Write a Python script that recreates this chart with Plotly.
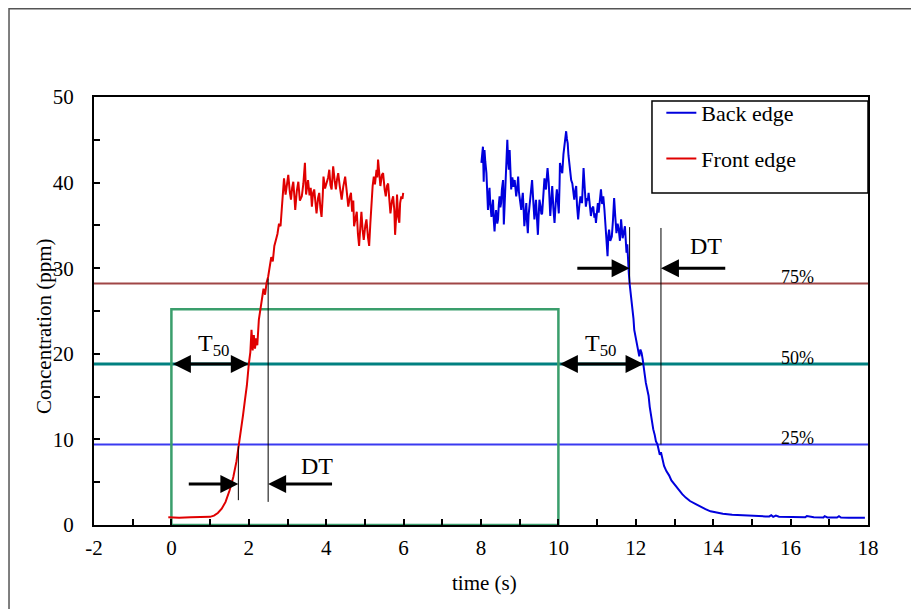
import plotly.graph_objects as go

# ---------------- data ----------------
front_t = [-0.08, 0.2, 0.5, 0.8, 1.0, 1.1, 1.2, 1.3, 1.4, 1.5,
           1.6, 1.68, 1.75, 1.8, 1.85, 1.9, 1.95, 2.0, 2.04, 2.07,
           2.1, 2.13, 2.16, 2.19, 2.22, 2.26, 2.3, 2.34, 2.38, 2.42,
           2.46, 2.5, 2.54, 2.58, 2.62, 2.66, 2.7, 2.74, 2.78, 2.82,
           2.85,
           2.91, 2.95, 2.98, 3.02, 3.06, 3.09, 3.12, 3.15, 3.18, 3.20,
           3.24, 3.28, 3.32, 3.37, 3.41, 3.45, 3.48, 3.50, 3.53, 3.57,
           3.60, 3.63, 3.66, 3.69, 3.72, 3.75, 3.79, 3.82, 3.85, 3.88,
           3.91, 3.93, 3.97, 4.01, 4.05, 4.08, 4.11, 4.14, 4.16, 4.18,
           4.22, 4.25, 4.28, 4.31, 4.35, 4.40, 4.44, 4.49, 4.53, 4.57,
           4.61, 4.64, 4.67, 4.70, 4.72, 4.75, 4.79, 4.82, 4.85, 4.88,
           4.91, 4.94, 4.97, 5.01, 5.04, 5.08, 5.11, 5.14, 5.17, 5.20,
           5.23, 5.26, 5.30, 5.32, 5.34, 5.37, 5.40, 5.44, 5.47, 5.51,
           5.54, 5.57, 5.60, 5.63, 5.66, 5.70, 5.73, 5.76, 5.78, 5.81,
           5.83, 5.86, 5.89, 5.91, 5.94, 5.97, 5.99]
front_c = [0.9, 0.85, 0.9, 0.9, 0.95, 1.1, 1.4, 1.9, 2.7, 4.0,
           5.6, 7.4, 9.4, 11.0, 12.8, 14.6, 16.3, 18.8, 20.2, 22.8,
           20.4, 22.2, 20.6, 21.8, 21.0, 24.0, 25.3, 26.4, 27.6, 26.9,
           28.3, 29.0, 30.3, 31.3, 30.8, 32.6, 33.3, 34.0, 35.2, 34.9,
           36.8,
           40.5, 38.6, 39.6, 40.9, 38.9, 38.0, 39.4, 40.1, 38.2, 36.8,
           39.0, 40.1, 37.9, 38.4, 39.9, 42.3, 38.6, 39.2, 40.3, 38.5,
           39.4, 37.2, 38.8, 39.2, 37.6, 36.4, 38.2, 38.8, 37.0, 36.0,
           38.4, 40.7, 39.3, 39.9, 40.6, 41.5, 39.7, 39.2, 40.8, 41.9,
           40.2, 39.2, 40.4, 41.1, 39.6, 38.0, 39.5, 40.7, 39.0, 37.2,
           38.3, 38.8, 36.6, 37.9, 34.9, 35.8, 36.6, 34.0, 32.6, 34.7,
           36.6, 34.5, 33.3, 35.0, 35.7, 33.6, 32.6, 35.2, 38.4, 39.6,
           40.7, 39.8, 41.5, 40.6, 42.7, 41.2, 39.6, 40.9, 41.1, 39.2,
           38.4, 39.6, 39.9, 38.1, 36.4, 37.9, 38.4, 36.8, 33.9, 36.2,
           38.6, 36.0, 35.3, 37.6, 38.4, 38.1, 38.8]

back_t = [8.01, 8.03, 8.05, 8.07, 8.09, 8.11, 8.14, 8.16, 8.18, 8.20,
          8.22, 8.24, 8.27, 8.29, 8.31, 8.33, 8.35, 8.37, 8.39, 8.42,
          8.44, 8.46, 8.48, 8.50, 8.52, 8.54, 8.57, 8.59, 8.61, 8.63,
          8.65, 8.68, 8.70, 8.72, 8.74, 8.76, 8.78, 8.81, 8.84, 8.87,
          8.89, 8.91, 8.94, 8.96, 8.98, 9.01, 9.04, 9.06, 9.08, 9.10,
          9.12, 9.15, 9.17, 9.19, 9.21, 9.23, 9.25, 9.28, 9.30, 9.32,
          9.35, 9.38, 9.40, 9.42, 9.45, 9.47, 9.49, 9.51, 9.54, 9.56,
          9.58, 9.61, 9.64, 9.66, 9.68, 9.70, 9.72, 9.75, 9.77, 9.79,
          9.82, 9.84, 9.87, 9.90, 9.93, 9.96, 9.98, 10.01, 10.03, 10.04,
          10.07, 10.10, 10.13, 10.16, 10.18, 10.20, 10.22, 10.24, 10.26, 10.28,
          10.31, 10.33, 10.36, 10.39, 10.41, 10.44, 10.46, 10.48, 10.51, 10.54,
          10.57, 10.61, 10.63, 10.65, 10.68, 10.71, 10.74, 10.76, 10.78, 10.81,
          10.84, 10.87, 10.90, 10.93, 10.95, 10.97, 11.00, 11.02, 11.04, 11.07,
          11.10, 11.13, 11.16, 11.19, 11.21, 11.24, 11.27, 11.29, 11.31, 11.34,
          11.38, 11.41, 11.44, 11.47, 11.50, 11.53, 11.56, 11.59, 11.62, 11.64,
          11.66, 11.69, 11.72, 11.74, 11.76, 11.78, 11.80, 11.82, 11.84, 11.87,
          11.89, 11.91, 11.94, 11.96, 11.99, 12.02, 12.05, 12.09, 12.12, 12.15,
          12.18, 12.20, 12.23, 12.26, 12.30, 12.33, 12.36, 12.39, 12.42, 12.45,
          12.49, 12.52, 12.56, 12.59, 12.62, 12.65, 12.69, 12.73, 12.79, 12.86,
          12.92, 12.99, 13.06, 13.12, 13.20, 13.29, 13.40, 13.55, 13.68, 13.80,
          13.93, 14.06, 14.25, 14.49, 14.70, 14.92, 15.10, 15.35, 15.45, 15.50,
          15.55, 15.62, 15.70, 15.78, 16.0, 16.2, 16.38, 16.42, 16.6, 16.85,
          16.88, 16.95, 17.2, 17.25, 17.3, 17.5, 17.7, 17.92]
back_c = [42.3, 43.5, 44.2, 40.1, 43.8, 42.5, 41.1, 39.0, 36.8, 38.2,
          39.4, 37.5, 36.0, 37.2, 38.0, 35.6, 34.3, 35.9, 36.8, 35.2,
          35.7, 37.4, 38.4, 37.1, 37.6, 39.2, 40.3, 35.1, 37.8, 39.9,
          42.2, 45.0, 42.6, 41.5, 43.8, 42.0, 39.2, 40.6, 39.5, 40.3,
          39.1, 38.4, 39.6, 40.7, 38.9, 37.6, 36.8, 38.0, 38.8, 37.0,
          34.9, 36.5, 37.6, 35.4, 34.1, 36.2, 37.2, 38.6, 39.5, 40.3,
          37.9, 35.7, 36.8, 38.0, 35.5, 33.9, 36.1, 38.0, 37.2, 36.3,
          36.4, 38.7, 40.5, 39.4, 39.2, 40.6, 41.7, 40.0, 38.4, 36.1,
          38.2, 39.6, 37.0, 35.3, 37.6, 39.2, 38.1, 36.4, 39.8, 42.3,
          41.6, 41.1, 43.3, 44.8, 45.3, 46.0, 45.1, 44.6, 43.2, 42.3,
          41.5, 40.3, 39.9, 38.6, 38.0, 39.2, 39.6, 37.4, 35.7, 37.3,
          38.4, 37.6, 40.2, 41.7, 39.4, 37.2, 38.2, 37.9, 38.8, 37.5,
          36.1, 37.0, 37.2, 35.9, 36.4, 35.3, 36.6, 37.6, 36.5, 38.4,
          39.2, 37.5, 38.4, 36.8, 35.7, 33.6, 31.4, 33.8, 34.5, 33.2,
          33.7, 35.6, 38.2, 36.0, 34.1, 35.2, 34.5, 33.2, 35.7, 34.6,
          33.5, 34.2, 34.9, 33.3, 31.8, 32.8, 30.2, 29.4, 28.2, 27.1,
          26.4, 25.2, 24.1, 22.8, 22.1, 21.3, 20.5, 19.7, 20.5, 20.1,
          19.3, 18.8, 17.6, 16.6, 15.8, 15.1, 13.8, 12.8, 12.0, 11.2,
          10.5, 9.8, 9.4, 8.9, 8.2, 8.5, 7.6, 6.9, 6.3, 5.8,
          5.2, 4.8, 4.3, 4.0, 3.6, 3.2, 2.8, 2.45, 2.1, 1.86,
          1.6, 1.47, 1.32, 1.2, 1.13, 1.09, 1.04, 1.0, 1.0, 1.15,
          0.95, 1.1, 0.97, 0.97, 0.93, 0.9, 0.9, 1.05, 0.9, 0.88,
          1.03, 0.88, 0.87, 1.02, 0.87, 0.86, 0.86, 0.86]

level_labels = ["75%", "50%", "25%"]
level_values = [28.2, 18.8, 9.4]
pulse_t = [0, 10]          # injection window
pulse_height = 25.2
t50_spans = [[0, 2.0], [10, 12.2]]
dt_marks_front = [1.73, 2.5]
dt_marks_back = [11.84, 12.65]

x_ticks = [-2, 0, 2, 4, 6, 8, 10, 12, 14, 16, 18]
y_ticks = [0, 10, 20, 30, 40, 50]

FONT = "Liberation Serif, Times New Roman, serif"

fig = go.Figure()
fig.add_trace(go.Scatter(x=back_t, y=back_c, mode="lines", name="Back edge",
                         line=dict(color="#0000DD", width=2), legendgroup="b"))
fig.add_trace(go.Scatter(x=front_t, y=front_c, mode="lines", name="Front edge",
                         line=dict(color="#E00000", width=2), legendgroup="f"))

shapes = []
level_colors = ["#A04646", "#008080", "#3A3AF0"]
level_widths = [2, 3, 2]
for v, c, w in zip(level_values, level_colors, level_widths):
    shapes.append(dict(type="line", xref="x", yref="y", x0=-2, x1=18, y0=v, y1=v,
                       line=dict(color=c, width=w), layer="below"))
# injection pulse (green rectangle)
shapes.append(dict(type="rect", xref="x", yref="y", x0=pulse_t[0], x1=pulse_t[1],
                   y0=0, y1=pulse_height, line=dict(color="#3A9E6C", width=2.5),
                   layer="below"))
# DT marker lines
shapes.append(dict(type="line", xref="x", yref="y", x0=dt_marks_front[0], x1=dt_marks_front[0],
                   y0=2.9, y1=9.2, line=dict(color="black", width=1)))
shapes.append(dict(type="line", xref="x", yref="y", x0=dt_marks_front[1], x1=dt_marks_front[1],
                   y0=2.7, y1=28.8, line=dict(color="black", width=1)))
shapes.append(dict(type="line", xref="x", yref="y", x0=dt_marks_back[0], x1=dt_marks_back[0],
                   y0=28.2, y1=34.8, line=dict(color="black", width=1)))
shapes.append(dict(type="line", xref="x", yref="y", x0=dt_marks_back[1], x1=dt_marks_back[1],
                   y0=9.4, y1=34.7, line=dict(color="black", width=1)))
# legend box
shapes.append(dict(type="rect", xref="paper", yref="paper", x0=0.7209, x1=1.0,
                   y0=0.7757, y1=0.9907, line=dict(color="black", width=1.5)))
# outer chart border
shapes.append(dict(type="rect", xref="paper", yref="paper", x0=-0.1098, x1=1.0633,
                   y0=-0.30, y1=1.206, line=dict(color="#555555", width=1.5)))

annotations = []


def arrow(x0, y0, x1, y1, both=False):
    d = dict(x=x1, y=y1, ax=x0, ay=y0, xref="x", yref="y", axref="x", ayref="y",
             text="", showarrow=True, arrowhead=2, arrowsize=1.2, arrowwidth=3,
             arrowcolor="black", standoff=0, startstandoff=0)
    if both:
        d["arrowside"] = "end+start"
        d["startarrowhead"] = 2
        d["startarrowsize"] = 1.2
    annotations.append(d)


arrow(t50_spans[0][0], 18.8, t50_spans[0][1], 18.8, both=True)
arrow(t50_spans[1][0], 18.8, t50_spans[1][1], 18.8, both=True)
arrow(0.41, 4.8, dt_marks_front[0], 4.8)
arrow(4.19, 4.8, dt_marks_front[1], 4.8)
arrow(10.45, 30.0, dt_marks_back[0], 30.0)
arrow(14.35, 30.0, dt_marks_back[1], 30.0)

txt = dict(font=dict(family=FONT, size=24, color="black"), showarrow=False,
           xref="x", yref="y", xanchor="center", yanchor="middle")
annotations.append(dict(text="T<sub>50</sub>", x=1.08, y=21.0, **txt))
annotations.append(dict(text="T<sub>50</sub>", x=11.08, y=21.0, **txt))
annotations.append(dict(text="DT", x=3.77, y=6.9, **txt))
annotations.append(dict(text="DT", x=13.82, y=32.6, **txt))
pct_y = [28.97, 19.5, 10.16]
for lab, yy in zip(level_labels, pct_y):
    annotations.append(dict(text=lab, x=16.17, y=yy, xref="x", yref="y", showarrow=False,
                            xanchor="center", yanchor="middle",
                            font=dict(family=FONT, size=18, color="black")))
# axis titles
annotations.append(dict(text="Concentration (ppm)", x=-0.0646, y=0.465, xref="paper",
                        yref="paper", textangle=-90, showarrow=False,
                        xanchor="center", yanchor="middle",
                        font=dict(family=FONT, size=21, color="black")))
annotations.append(dict(text="time (s)", x=0.504, y=-0.1355, xref="paper", yref="paper",
                        showarrow=False, xanchor="center", yanchor="middle",
                        font=dict(family=FONT, size=21, color="black")))

fig.update_layout(
    width=911, height=601,
    margin=dict(l=86, r=51, t=89, b=84),
    paper_bgcolor="white", plot_bgcolor="white",
    font=dict(family=FONT, size=21, color="black"),
    showlegend=True,
    legend=dict(x=0.733, y=1.0117, xanchor="left", yanchor="top",
                bgcolor="rgba(0,0,0,0)", borderwidth=0,
                font=dict(family=FONT, size=22, color="black"),
                traceorder="grouped", tracegroupgap=14),
    shapes=shapes, annotations=annotations,
)
fig.update_xaxes(range=[-2, 18], tickvals=x_ticks, ticktext=[str(v) for v in x_ticks],
                 showgrid=False, zeroline=False, showline=True, mirror=True,
                 linecolor="black", linewidth=2, ticks="inside", ticklen=6,
                 tickcolor="black", tickwidth=1.5, ticklabelstandoff=3,
                 minor=dict(dtick=1, tick0=0, ticks="inside", ticklen=6,
                            tickcolor="black", tickwidth=1.5),
                 tickfont=dict(family=FONT, size=21, color="black"))
fig.update_yaxes(range=[0, 50], tickvals=y_ticks, ticktext=[str(v) for v in y_ticks],
                 showgrid=False, zeroline=False, showline=True, mirror=True,
                 linecolor="black", linewidth=2, ticks="inside", ticklen=6,
                 tickcolor="black", tickwidth=1.5, ticklabelstandoff=14,
                 minor=dict(dtick=5, tick0=0, ticks="inside", ticklen=6,
                            tickcolor="black", tickwidth=1.5),
                 tickfont=dict(family=FONT, size=21, color="black"))

fig.write_html("out.html")
